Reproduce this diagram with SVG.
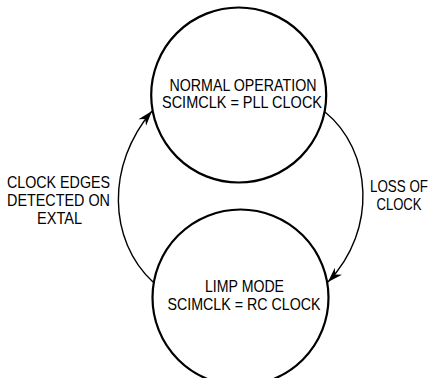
<svg xmlns="http://www.w3.org/2000/svg" width="434" height="378" viewBox="0 0 434 378">
<defs>
<style>
.node{fill:#fff;stroke:#000;stroke-width:2.2}
.conn{fill:none;stroke:#000;stroke-width:1.4}
text{font-family:"Liberation Sans",Arial,sans-serif;font-size:16.5px;fill:#000;text-anchor:middle}
</style>
<marker id="arr" viewBox="-16 -6 17 12" refX="0" refY="0" markerWidth="17" markerHeight="12" orient="auto" markerUnits="userSpaceOnUse">
<path d="M0,0 L-15,-5 L-10.5,0 L-15,5 Z" fill="#000"/>
</marker>
</defs>
<rect width="434" height="378" fill="#fff"/>
<g id="normal">
<circle class="node" cx="238.7" cy="95" r="87.5"/>
<text x="243" y="91" textLength="147" lengthAdjust="spacingAndGlyphs">NORMAL OPERATION</text>
<text x="242" y="108" textLength="160" lengthAdjust="spacingAndGlyphs">SCIMCLK = PLL CLOCK</text>
</g>
<g id="limp">
<circle class="node" cx="240.5" cy="297.5" r="88"/>
<text x="244.5" y="292" textLength="79" lengthAdjust="spacingAndGlyphs">LIMP MODE</text>
<text x="244" y="310" textLength="153" lengthAdjust="spacingAndGlyphs">SCIMCLK = RC CLOCK</text>
</g>
<g id="connectors">
<path class="conn" d="M325,112 C372,150 378,230 328,282" marker-end="url(#arr)"/>
<path class="conn" d="M153,282 C108,240 106,165 152,111" marker-end="url(#arr)"/>
</g>
<g id="labels">
<text x="399" y="192" textLength="58" lengthAdjust="spacingAndGlyphs">LOSS OF</text>
<text x="399" y="210" textLength="45" lengthAdjust="spacingAndGlyphs">CLOCK</text>
<text x="58.5" y="188" textLength="103" lengthAdjust="spacingAndGlyphs">CLOCK EDGES</text>
<text x="58.5" y="206" textLength="103" lengthAdjust="spacingAndGlyphs">DETECTED ON</text>
<text x="59.5" y="224" textLength="45" lengthAdjust="spacingAndGlyphs">EXTAL</text>
</g>
</svg>
